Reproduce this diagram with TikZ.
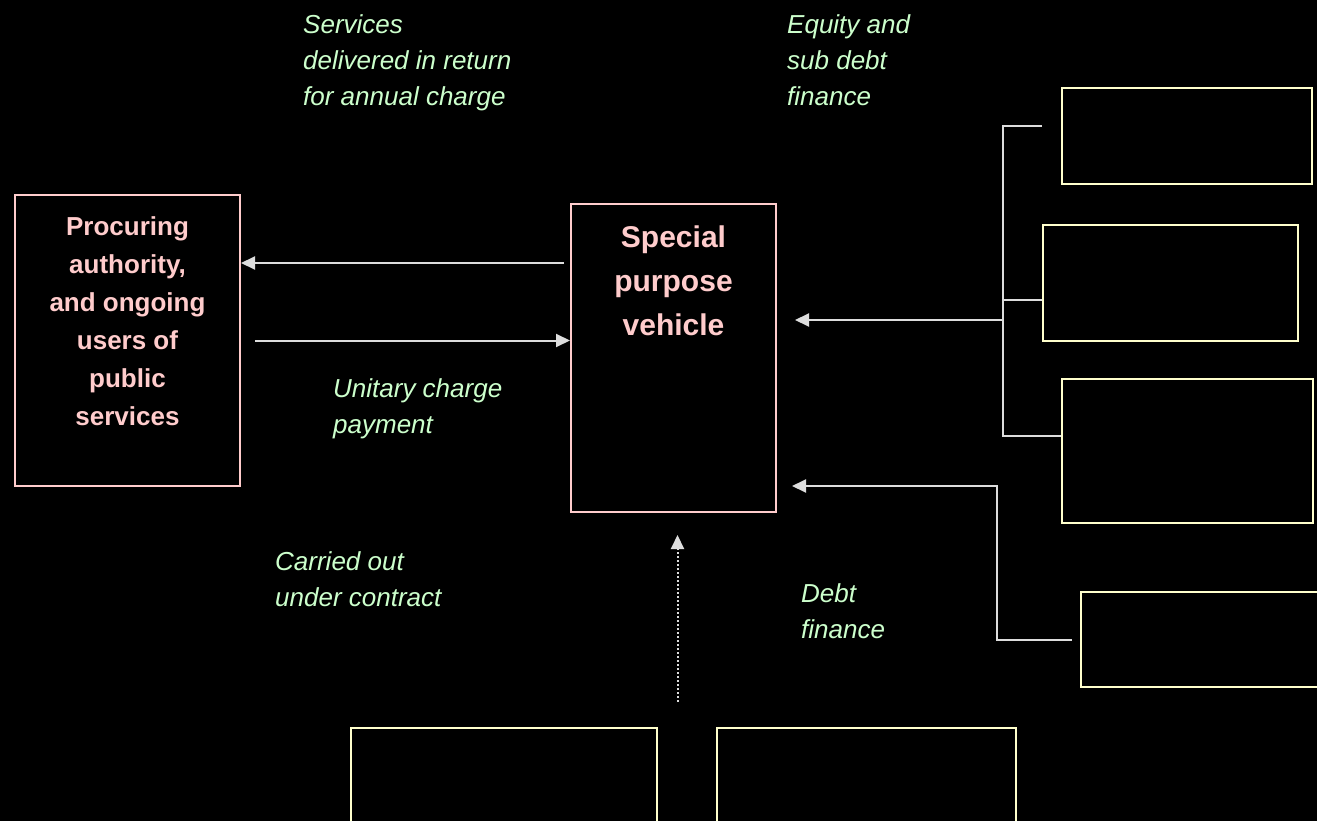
\documentclass[tikz,border=0pt]{standalone}
\usepackage{fontspec}
\setmainfont{Liberation Sans}
\usetikzlibrary{arrows.meta,calc}
\definecolor{pinkline}{HTML}{FFCCCC}
\definecolor{creamline}{HTML}{FFFFCC}
\definecolor{greentext}{HTML}{CCFFCC}
\definecolor{linkgray}{HTML}{DDDDDD}
\begin{document}
\begin{tikzpicture}[
    x=1pt, y=-1pt,
    partybox/.style={
        draw=pinkline, line width=2pt,
        anchor=north west, inner sep=0pt
    },
    emptybox/.style={
        draw=creamline, line width=2pt,
        anchor=north west, inner sep=0pt
    },
    partytext/.style={anchor=north, align=center, inner sep=0pt, text=pinkline},
    flowtext/.style={
        anchor=north west, align=left, inner sep=0pt, text=greentext,
        font=\fontsize{26}{36}\selectfont\itshape
    },
    flow/.style={draw=linkgray, line width=2pt, -{Triangle[length=14pt,width=13pt]}},
    link/.style={draw=linkgray, line width=2pt}
]

\path[use as bounding box, fill=black] (0,0) rectangle (1317,821);

\node[partybox, minimum width=225pt, minimum height=291pt] (proc)    at (14,194)   {};
\node[partybox, minimum width=205pt, minimum height=308pt] (spv)     at (570,203)  {};
\node[emptybox, minimum width=250pt, minimum height=96pt]  (eqa)     at (1061,87)  {};
\node[emptybox, minimum width=255pt, minimum height=116pt] (eqb)     at (1042,224) {};
\node[emptybox, minimum width=251pt, minimum height=144pt] (eqc)     at (1061,378) {};
\node[emptybox, minimum width=260pt, minimum height=95pt]  (bank)    at (1080,591) {};
\node[emptybox, minimum width=306pt, minimum height=120pt] (build)   at (350,727)  {};
\node[emptybox, minimum width=299pt, minimum height=120pt] (operate) at (716,727)  {};

\node[partytext, font=\fontsize{26}{38}\selectfont\bfseries] (proclabel) at ([yshift=-22pt]proc.north)
    {Procuring\\authority,\\and ongoing\\users of\\public\\services};
\node[partytext, font=\fontsize{30}{44}\selectfont\bfseries] (spvlabel) at ([yshift=-23pt]spv.north)
    {Special\\purpose\\vehicle};

\node[flowtext] (servtext)   at (303,14)  {Services\\delivered in return\\for annual charge};
\node[flowtext] (equitytext) at (787,14)  {Equity and\\sub debt\\finance};
\node[flowtext] (paytext)    at (333,378) {Unitary charge\\payment};
\node[flowtext] (contrtext)  at (275,551) {Carried out\\under contract};
\node[flowtext] (debttext)   at (801,583) {Debt\\finance};

% services and payment
\draw[flow] ([xshift=-6pt,yshift=-60pt]spv.north west) -- ([yshift=-69pt]proc.north east);
\draw[flow] ([xshift=14pt]proc.east) -- (proc.east -| spv.west);

% equity bracket
\coordinate (eqtop)  at (1003,126);
\coordinate (eqmid)  at (1003,300);
\coordinate (eqjoin) at (1003,320);
\coordinate (eqbot)  at (1003,436);
\draw[link] ($(eqtop -| eqa.west)+(-19,0)$) -- (eqtop) -- (eqbot) -- (eqbot -| eqc.west);
\draw[link] (eqmid) -- (eqmid -| eqb.west);
\draw[flow] (eqjoin) -- ($(eqjoin -| spv.east)+(18,0)$);

% debt
\coordinate (debtturn) at (997,486);
\draw[flow] ([xshift=-8pt]bank.west) -| (debtturn) -- ($(debtturn -| spv.east)+(15,0)$);

% contracts
\draw[flow, line width=2pt, dash pattern=on 2pt off 2pt] ([xshift=4pt,yshift=-189pt]spv.south) -- ([xshift=4pt,yshift=-22pt]spv.south);

\end{tikzpicture}
\end{document}
